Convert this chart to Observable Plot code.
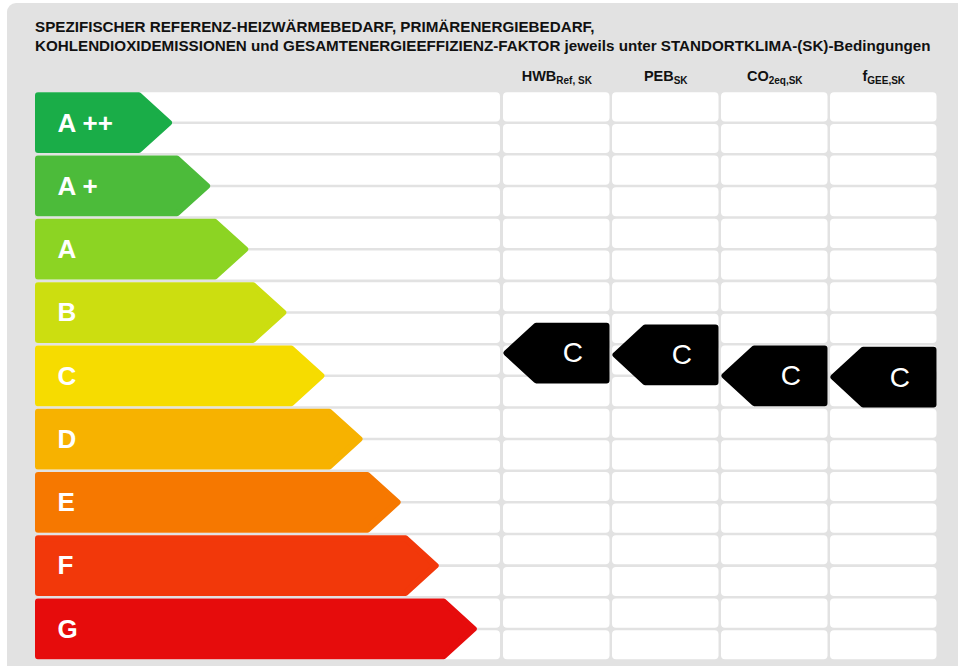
<!DOCTYPE html>
<html>
<head>
<meta charset="utf-8">
<script src="https://cdn.jsdelivr.net/npm/d3@7"></script>
<script src="https://cdn.jsdelivr.net/npm/@observablehq/plot@0.6"></script>
<style>
  html, body { margin: 0; padding: 0; background: #ffffff; }
  #wrap { position: relative; width: 958px; height: 666px; overflow: hidden; font-family: "Liberation Sans", Arial, sans-serif; }
  #panel { position: absolute; left: 7px; top: 3px; width: 951px; height: 663px; background: #e2e2e2; border-top-left-radius: 9px; }
  #title { position: absolute; left: 35px; top: 18px; font-weight: bold; font-size: 15.2px; line-height: 18.5px; color: #111; white-space: nowrap; }
  #chart { position: absolute; left: 0; top: 60px; }
</style>
</head>
<body>
<div id="wrap">
  <div id="panel"></div>
  <div id="title"></div>
  <div id="chart"></div>
</div>
<script>
// ---------- data ----------
const titleLines = [
  "SPEZIFISCHER REFERENZ-HEIZWÄRMEBEDARF, PRIMÄRENERGIEBEDARF,",
  "KOHLENDIOXIDEMISSIONEN und GESAMTENERGIEEFFIZIENZ-FAKTOR jeweils unter STANDORTKLIMA-(SK)-Bedingungen"
];
const classes = ["A ++", "A +", "A", "B", "C", "D", "E", "F", "G"];
const classColors = ["#1aad48", "#4cbb3a", "#8cd423", "#ccde10", "#f6dc00", "#f7b200", "#f67800", "#f2380a", "#e60c0c"];
const indicatorMain = ["HWB", "PEB", "CO", "f"];
const indicatorSub = ["Ref, SK", "SK", "2eq,SK", "GEE,SK"];
const ratingClass = ["C", "C", "C", "C"];
const ratingPosition = [4.12, 4.15, 4.48, 4.50]; // position on the class scale (0 = top of A++)

// ---------- layout ----------
const gapY = 0.04;          // gap between rows (class units)
const halfRow = 0.5;
const leftColWidth = 465;   // x units
const colStart = 468, colPitch = 109, colWidth = 106.5;
const barBase = 105, barStep = 38.1, tipDepth = 32;
const sw = 6, insetY = 3 / 63.28, insetX = 3;

document.getElementById("title").innerHTML = titleLines.join("<br>");

// grid cells
const cells = [];
for (let k = 0; k < classes.length * 2; k++) {
  const y1 = k * halfRow, y2 = (k + 1) * halfRow - gapY;
  cells.push({x1: 0, x2: leftColWidth, y1, y2});
  indicatorMain.forEach((_, j) => {
    const l = colStart + j * colPitch;
    cells.push({x1: l, x2: l + colWidth, y1, y2});
  });
}

// class arrows
const bars = [];
classes.forEach((c, i) => {
  const R = barBase + barStep * i, T = R + tipDepth;
  const top = i + insetY, bot = i + 1 - gapY - insetY, mid = i + (1 - gapY) / 2;
  bars.push({c, col: classColors[i], y: top, x1: insetX, x2: R - 1.2});
  bars.push({c, col: classColors[i], y: mid, x1: insetX, x2: T - 3});
  bars.push({c, col: classColors[i], y: bot, x1: insetX, x2: R - 1.2});
});
const barLabels = classes.map((c, i) => ({c, y: i + (1 - gapY) / 2}));

// rating markers
const markers = [];
const markerLabels = [];
const h = 1 - gapY;
ratingPosition.forEach((v, j) => {
  const l = colStart + j * colPitch, r = l + colWidth;
  markers.push({j, y: v - h / 2 + insetY, x1: l + tipDepth + 1.2, x2: r - insetX});
  markers.push({j, y: v, x1: l + 3.5, x2: r - insetX});
  markers.push({j, y: v + h / 2 - insetY, x1: l + tipDepth + 1.2, x2: r - insetX});
  markerLabels.push({t: ratingClass[j], x: l + tipDepth + (colWidth - tipDepth) / 2, y: v});
});
const headers = indicatorMain.map((m, j) => ({t: m + "_" + indicatorSub[j], x: colStart + j * colPitch + colWidth / 2}));

const plot = Plot.plot({
  width: 958,
  height: 606,
  margin: 0,
  style: {background: "transparent", fontFamily: "'Liberation Sans', Arial, sans-serif"},
  x: {domain: [0, 902], range: [35, 937], axis: null},
  y: {domain: [0, 9], range: [32.3, 601.8], axis: null},
  color: {type: "identity"},
  marks: [
    Plot.rect(cells, {x1: "x1", x2: "x2", y1: "y1", y2: "y2", fill: "#ffffff", rx: 4}),
    Plot.areaX(bars, {y: "y", x1: "x1", x2: "x2", z: "c", fill: "col", stroke: "col", strokeWidth: sw, strokeLinejoin: "round", curve: "linear"}),
    Plot.text(barLabels, {x: 22, y: "y", text: "c", textAnchor: "start", fill: "white", fontWeight: "bold", fontSize: 26}),
    Plot.areaX(markers, {y: "y", x1: "x1", x2: "x2", z: "j", fill: "#000", stroke: "#000", strokeWidth: sw, strokeLinejoin: "round", curve: "linear"}),
    Plot.text(markerLabels, {x: "x", y: "y", text: "t", fill: "white", fontSize: 28}),
    Plot.text(headers, {x: "x", y: -0.26, text: "t", fill: "#111", fontWeight: "bold", fontSize: 14.5})
  ]
});

// subscripts for the indicator headers
d3.select(plot).selectAll("text").each(function () {
  const s = this.textContent;
  if (s.includes("_")) {
    const [a, b] = s.split("_");
    const t = d3.select(this);
    t.text(null);
    t.append("tspan").text(a);
    t.append("tspan").attr("font-size", 10).attr("dy", 3).text(b);
  }
});

document.getElementById("chart").appendChild(plot);
</script>
</body>
</html>
